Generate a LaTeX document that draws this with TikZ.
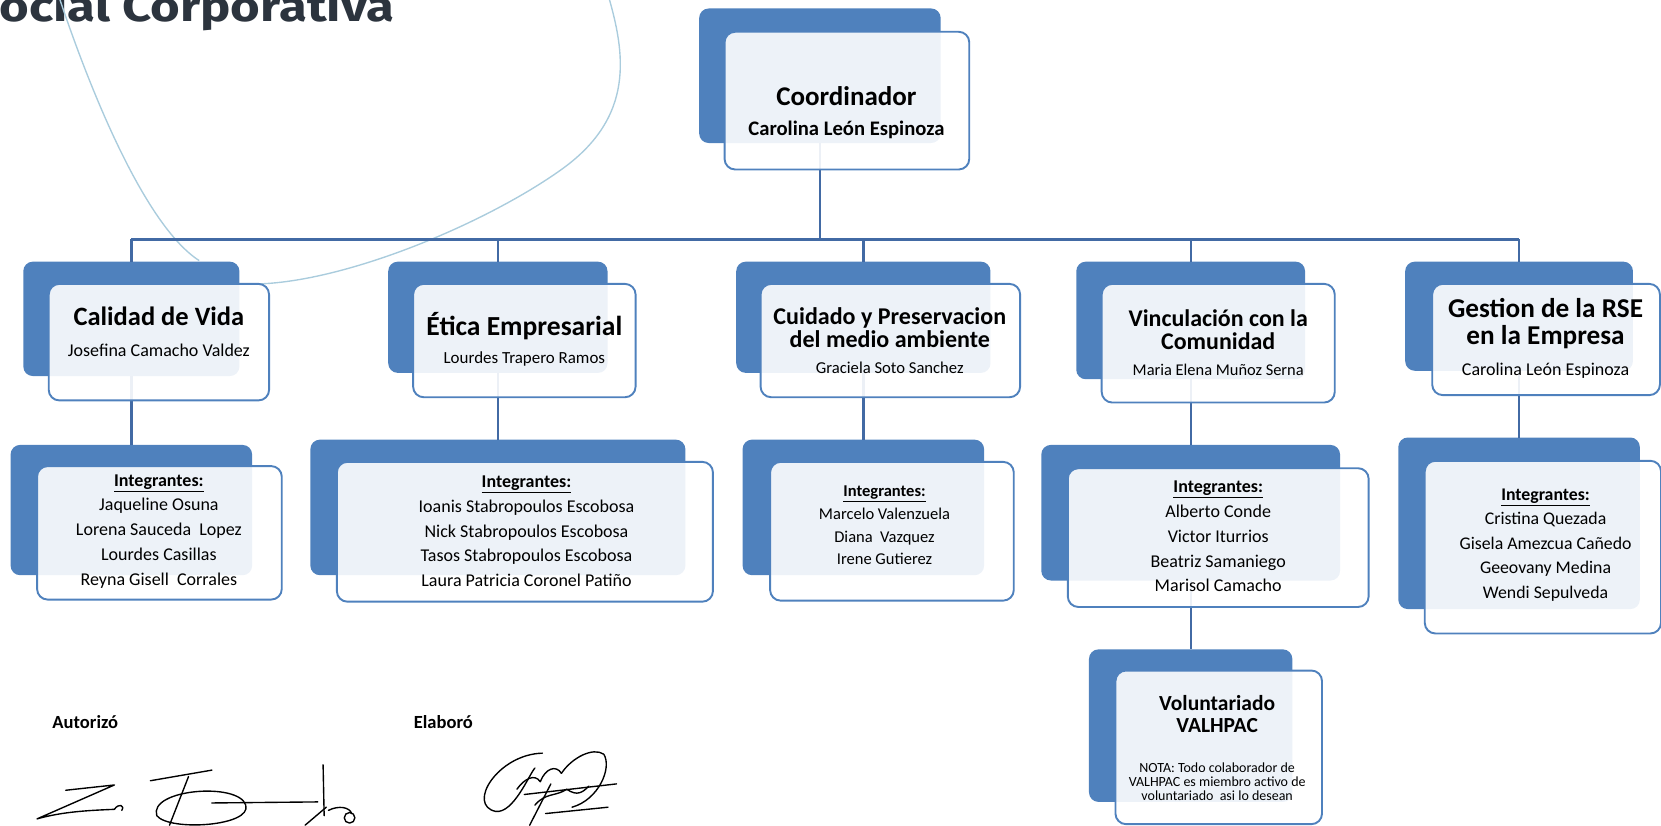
\documentclass[tikz,border=0pt]{standalone}
\usepackage{fontspec}
\setmainfont{Carlito}
\newfontfamily\headlinefont{Fira Sans}
\usetikzlibrary{positioning, calc}
\definecolor{boxblue}{RGB}{79,129,189}
\definecolor{linkblue}{RGB}{66,106,164}
\definecolor{swoosh}{RGB}{170,204,221}
\definecolor{titlegray}{RGB}{44,52,62}
\tikzset{
    back/.style={fill=boxblue, rounded corners=9pt, inner sep=0pt, outer sep=0pt},
    front/.style={draw=boxblue, line width=1.8pt, fill=white, fill opacity=0.9, rounded corners=10pt, inner sep=0pt, outer sep=0pt},
    head/.style={font=\bfseries\fontsize{25.5}{27}\selectfont, align=center, inner sep=0pt},
    person/.style={font=\fontsize{17}{19}\selectfont, align=center, inner sep=0pt},
    members/.style={font=\fontsize{17}{23.3}\selectfont, align=center, inner sep=0pt},
    link/.style={draw=linkblue, line width=2.2pt},
    busline/.style={draw=linkblue, line width=3pt},
    swoosh line/.style={draw=swoosh, line width=1.3pt},
    signature/.style={draw=black, line width=1.3pt, line cap=round, line join=round},
    sign label/.style={font=\bfseries\fontsize{17.5}{19}\selectfont, inner sep=0pt}
}
\newcommand{\team}{\underline{\textbf{Integrantes:}}}

\begin{document}
\begin{tikzpicture}[x=1pt, y=-1pt]
    \useasboundingbox (0,0) rectangle (1568,779);
    \clip (0,0) rectangle (1568,779);

    % --- Title and decoration ---
    \node[font=\headlinefont\bfseries\fontsize{40}{44}\selectfont, text=titlegray, anchor=base east, inner sep=0pt] (rsc) at (372,20) {\scalebox{1.2}[1]{ocial Corporativa}};
    \draw[swoosh line] (55,-5) .. controls (90,100) and (140,215) .. (188,246);
    \draw[swoosh line] (574,-5) .. controls (590,50) and (600,110) .. (530,160)
        .. controls (460,210) and (330,265) .. (245,268);

    % --- Back boxes ---
    \node (coordB) [back, minimum width=228pt, minimum height=127pt] at (774,71.5) {};
    \node (lifeB) [back, minimum width=204pt, minimum height=108pt] at (124,301) {};
    \node (ethicB) [back, minimum width=207pt, minimum height=105pt] at (470,299.5) {};
    \node (envB) [back, minimum width=240pt, minimum height=105pt] at (815,299.5) {};
    \node (commB) [back, minimum width=216pt, minimum height=111pt] at (1124,302.5) {};
    \node (rseB) [back, minimum width=215pt, minimum height=103pt] at (1434,298.5) {};
    \node (lifeTeamB) [back, minimum width=228pt, minimum height=123pt] at (124,481.5) {};
    \node (ethicTeamB) [back, minimum width=354pt, minimum height=128pt] at (470,479) {};
    \node (envTeamB) [back, minimum width=228pt, minimum height=128pt] at (815,479) {};
    \node (commTeamB) [back, minimum width=282pt, minimum height=128pt] at (1124,484) {};
    \node (rseTeamB) [back, minimum width=228pt, minimum height=162pt] at (1434,494) {};
    \node (volB) [back, minimum width=192pt, minimum height=144pt] at (1124,685) {};

    % --- Connectors ---
    \coordinate (bus) at (774,226);
    \draw[link] (coordB.south) -- (bus);
    \draw[busline] (lifeB.north |- bus) -- (rseB.north |- bus);
    \foreach \area in {lifeB, ethicB, envB, commB, rseB}
        \draw[link] (\area.north |- bus) -- (\area.north);
    \draw[link] (lifeB.south) -- (lifeTeamB.north);
    \draw[link] (ethicB.south) -- (ethicTeamB.north);
    \draw[link] (envB.south) -- (envTeamB.north);
    \draw[link] (commB.south) -- (commTeamB.north);
    \draw[link] (rseB.south) -- (rseTeamB.north);
    \draw[link] (commTeamB.south) -- (volB.north);

    % --- Front boxes ---
    \node (coordF) [front, minimum width=231pt, minimum height=130pt] at (799.5,95) {};
    \node (lifeF) [front, minimum width=208pt, minimum height=110pt] at (150,323) {};
    \node (ethicF) [front, minimum width=210pt, minimum height=107pt] at (495,321.5) {};
    \node (envF) [front, minimum width=245pt, minimum height=107pt] at (840.5,321.5) {};
    \node (commF) [front, minimum width=220pt, minimum height=112pt] at (1150,324) {};
    \node (rseF) [front, minimum width=215pt, minimum height=105pt] at (1459.5,320.5) {};
    \node (lifeTeamF) [front, minimum width=231pt, minimum height=126pt] at (150.5,503) {};
    \node (ethicTeamF) [front, minimum width=355pt, minimum height=132pt] at (495.5,502) {};
    \node (envTeamF) [front, minimum width=230pt, minimum height=131pt] at (842,501.5) {};
    \node (commTeamF) [front, minimum width=284pt, minimum height=131pt] at (1150,507.5) {};
    \node (rseTeamF) [front, minimum width=223pt, minimum height=163pt] at (1456.5,516.5) {};
    \node (volF) [front, minimum width=195pt, minimum height=145pt] at (1150.5,705.5) {};

    % --- Texts ---
    \node[head] (coordHead) at (799,91) {Coordinador};
    \node[person, font=\bfseries\fontsize{19.5}{21}\selectfont] (coordName) at (799,123) {Carolina León Espinoza};
    \node[head, font=\bfseries\fontsize{25}{27}\selectfont] (lifeHead) at (150,299) {Calidad de Vida};
    \node[person] (lifeName) at (150,331) {Josefina Camacho Valdez};
    \node[head, font=\bfseries\fontsize{26}{28}\selectfont] (ethicHead) at (495,308) {Ética Empresarial};
    \node[person, font=\fontsize{16}{18}\selectfont] (ethicName) at (495,339) {Lourdes Trapero Ramos};
    \node[head, font=\bfseries\fontsize{22.7}{22}\selectfont] (envHead) at (840,309) {Cuidado y Preservacion\\del medio ambiente};
    \node[person, font=\fontsize{15.7}{17}\selectfont] (envName) at (840,347) {Graciela Soto Sanchez};
    \node[head, font=\bfseries\fontsize{22.6}{22}\selectfont] (commHead) at (1150,311) {Vinculación con la\\Comunidad};
    \node[person, font=\fontsize{15.5}{17}\selectfont] (commName) at (1150,349) {Maria Elena Muñoz Serna};
    \node[head, font=\bfseries\fontsize{25.7}{25}\selectfont] (rseHead) at (1459,305.5) {Gestion de la RSE\\en la Empresa};
    \node[person] (rseName) at (1459,350) {Carolina León Espinoza};

    \node[members] (lifeTeam) at (150,501.5) {\team\\Jaqueline Osuna\\Lorena Sauceda\ \ Lopez\\Lourdes Casillas\\Reyna Gisell\ \ Corrales};
    \node[members] (ethicTeam) at (497,501.5) {\team\\Ioanis Stabropoulos Escobosa\\Nick Stabropoulos Escobosa\\Tasos Stabropoulos Escobosa\\Laura Patricia Coronel Patiño};
    \node[members, font=\fontsize{15.6}{21.5}\selectfont] (envTeam) at (835,496) {\team\\Marcelo Valenzuela\\Diana\ \ Vazquez\\Irene Gutierez};
    \node[members] (commTeam) at (1150,506.5) {\team\\Alberto Conde\\Victor Iturrios\\Beatriz Samaniego\\Marisol Camacho};
    \node[members, font=\fontsize{16.8}{23}\selectfont] (rseTeam) at (1459,514.5) {\team\\Cristina Quezada\\Gisela Amezcua Cañedo\\Geeovany Medina\\Wendi Sepulveda};

    \node[head, font=\bfseries\fontsize{20.3}{20.5}\selectfont] (volHead) at (1149,674) {Voluntariado\\VALHPAC};
    \node[person, font=\fontsize{13.2}{13.3}\selectfont] (volNote) at (1149,738) {NOTA: Todo colaborador de\\VALHPAC es miembro activo de\\voluntariado\ \ asi lo desean};

    % --- Signatures ---
    \node[sign label] (authorized) at (80.5,682) {Autorizó};
    \node[sign label] (prepared) at (418.5,682) {Elaboró};
    \draw[signature] (62,746) -- (108,741) -- (35,773) .. controls (60,766) and (85,765) .. (108,764);
    \draw[signature] (108,764) .. controls (112,758) and (118,760) .. (115,765);
    \draw[signature] (142,737) -- (200,727);
    \draw[signature] (178,733) -- (160,779);
    \draw[signature] (148,770) .. controls (140,745) and (225,738) .. (232,760) .. controls (238,780) and (160,785) .. (148,770);
    \draw[signature] (200,758) -- (300,757);
    \draw[signature] (305,722) -- (306,770);
    \draw[signature] (310,765) .. controls (320,760) and (330,762) .. (332,768);
    \draw[signature] (330,772) circle (5);
    \draw[signature] (288,779) -- (308,762);
    \draw[signature] (512,711) .. controls (470,712) and (440,760) .. (468,766) .. controls (485,768) and (500,730) .. (505,725);
    \draw[signature] (488,745) .. controls (495,735) and (505,730) .. (510,738) .. controls (515,725) and (525,722) .. (530,730);
    \draw[signature] (530,730) .. controls (540,715) and (560,705) .. (570,712) .. controls (578,725) and (565,755) .. (540,762);
    \draw[signature] (495,750) -- (582,740);
    \draw[signature] (505,760) .. controls (515,748) and (525,752) .. (535,745) .. controls (545,752) and (550,748) .. (556,742);
    \draw[signature] (520,740) -- (500,779);
    \draw[signature] (515,768) -- (574,762);
\end{tikzpicture}
\end{document}
